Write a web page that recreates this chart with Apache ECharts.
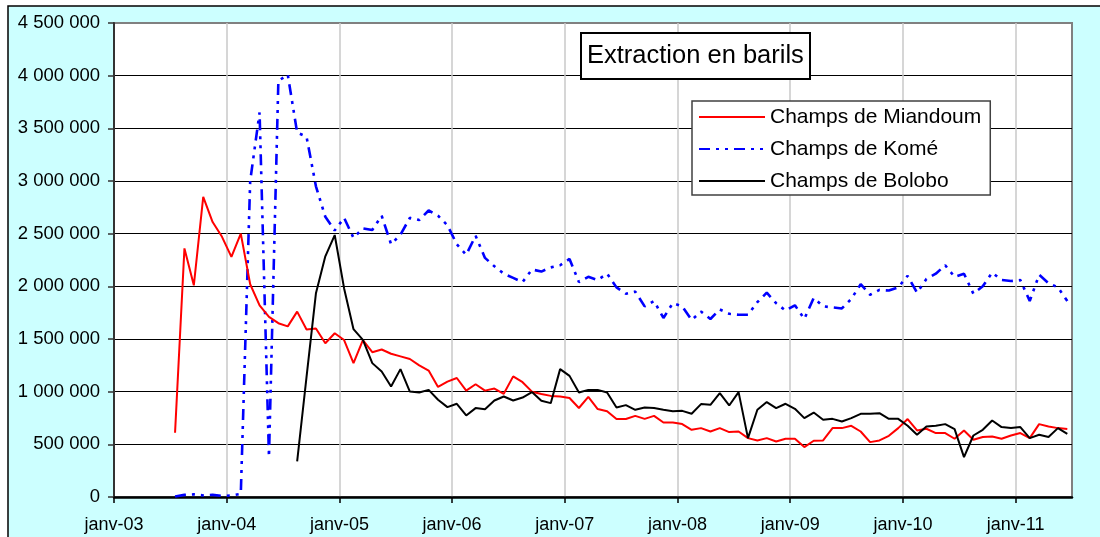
<!DOCTYPE html>
<html>
<head>
<meta charset="utf-8">
<script src="https://cdn.jsdelivr.net/npm/echarts@6/dist/echarts.min.js"></script>
<style>
  html, body { margin: 0; padding: 0; background: #fff; }
  #chart { width: 1100px; height: 537px; }
</style>
</head>
<body>
<div id="chart"></div>
<script>
// months are counted from janv-03; each series starts at its own month
const xTickLabels = ['janv-03', 'janv-04', 'janv-05', 'janv-06', 'janv-07', 'janv-08', 'janv-09', 'janv-10', 'janv-11'];
const seriesNames = ['Champs de Miandoum', 'Champs de Komé', 'Champs de Bolobo'];

const miandoumStart = '2003-07';
const miandoum = [
  610000, 2360000, 2010000, 2850000, 2610000, 2470000,
  2280000, 2500000, 2020000, 1820000, 1710000, 1650000, 1620000, 1760000, 1590000, 1600000, 1460000, 1555000,
  1490000, 1270000, 1490000, 1375000, 1400000, 1360000, 1335000, 1310000, 1250000, 1200000, 1045000, 1095000,
  1130000, 1010000, 1070000, 1010000, 1030000, 980000, 1145000, 1090000, 1000000, 977000, 960000, 955000,
  940000, 845000, 950000, 835000, 815000, 740000, 740000, 770000, 742000, 770000, 707000, 707000,
  692000, 638000, 654000, 622000, 654000, 616000, 622000, 559000, 537000, 559000, 527000, 553000,
  553000, 474000, 534000, 537000, 654000, 654000, 676000, 622000, 521000, 537000, 581000, 654000,
  740000, 632000, 648000, 607000, 607000, 553000, 632000, 543000, 569000, 575000, 553000, 584000,
  607000, 559000, 692000, 669000, 654000, 645000
];

const komeStart = '2003-07';
const kome = [
  5000, 20000, 25000, 15000, 20000, 10000,
  15000, 30000, 3000000, 3650000, 380000, 3950000, 4010000, 3460000, 3420000, 2950000, 2660000, 2530000,
  2650000, 2460000, 2550000, 2535000, 2670000, 2400000, 2490000, 2650000, 2630000, 2720000, 2670000, 2580000,
  2400000, 2300000, 2480000, 2270000, 2190000, 2120000, 2080000, 2040000, 2160000, 2140000, 2180000, 2200000,
  2260000, 2040000, 2090000, 2060000, 2120000, 1990000, 1930000, 1950000, 1810000, 1860000, 1700000, 1840000,
  1810000, 1680000, 1760000, 1690000, 1780000, 1740000, 1730000, 1730000, 1850000, 1940000, 1840000, 1770000,
  1820000, 1690000, 1890000, 1810000, 1800000, 1790000, 1880000, 2020000, 1920000, 1966000, 1960000, 1990000,
  2100000, 1940000, 2070000, 2120000, 2200000, 2090000, 2120000, 1930000, 2000000, 2130000, 2060000, 2050000,
  2060000, 1860000, 2110000, 2030000, 1990000, 1860000
];

const boloboStart = '2004-08';
const bolobo = [
  338000, 1140000, 1934000, 2285000, 2487000,
  1980000, 1593000, 1492000, 1271000, 1191000, 1049000, 1214000, 1001000, 992000, 1017000, 923000, 853000,
  885000, 774000, 844000, 834000, 916000, 954000, 916000, 944000, 996000, 913000, 891000, 1214000,
  1150000, 992000, 1017000, 1017000, 992000, 850000, 872000, 828000, 850000, 844000, 828000, 815000,
  818000, 790000, 882000, 875000, 986000, 869000, 996000, 559000, 828000, 901000, 844000, 885000,
  837000, 749000, 802000, 733000, 742000, 717000, 749000, 790000, 790000, 796000, 742000, 742000,
  676000, 591000, 669000, 676000, 692000, 645000, 379000, 584000, 638000, 726000, 664000, 654000,
  664000, 559000, 591000, 569000, 654000, 600000
];

const FONT = '"Liberation Sans", Arial, sans-serif';

// month index from janv-03, points sit in the middle of their month
function toPoints(start, values) {
  const p = start.split('-');
  const first = (parseInt(p[0], 10) - 2003) * 12 + parseInt(p[1], 10) - 1;
  return values.map(function (v, i) { return [first + i + 0.5, v]; });
}

function spaced(v) {
  return String(v).replace(/\B(?=(\d{3})+(?!\d))/g, ' ');
}

const myChart = echarts.init(document.getElementById('chart'));
myChart.setOption({
  animation: false,
  backgroundColor: '#fff',
  textStyle: { fontFamily: FONT },
  graphic: [{
    type: 'rect',
    z: -10,
    silent: true,
    shape: { x: 8, y: 6, width: 1100, height: 540 },
    style: { fill: '#CCFFFF', stroke: '#000', lineWidth: 1.5 }
  }],
  title: {
    text: 'Extraction en barils',
    left: 581,
    top: 33,
    padding: [10, 6, 10, 6],
    borderColor: '#000',
    borderWidth: 2,
    backgroundColor: '#fff',
    textStyle: { fontFamily: FONT, fontSize: 25.5, fontWeight: 'normal', color: '#000', lineHeight: 26 }
  },
  legend: {
    orient: 'vertical',
    left: 692,
    top: 101,
    padding: [5, 9, 3, 6],
    itemWidth: 66,
    itemHeight: 14,
    itemGap: 10,
    borderColor: '#404040',
    borderWidth: 1.5,
    backgroundColor: '#fff',
    itemStyle: { opacity: 0 },
    data: seriesNames,
    textStyle: { fontFamily: FONT, fontSize: 21, color: '#000', lineHeight: 22 }
  },
  grid: {
    left: 114,
    right: 28,
    top: 23,
    bottom: 40,
    show: true,
    backgroundColor: '#fff',
    borderColor: '#808080',
    borderWidth: 2
  },
  xAxis: {
    type: 'value',
    min: 0,
    max: 102,
    interval: 12,
    axisLine: { lineStyle: { color: '#000', width: 2.5 } },
    axisTick: { show: true, length: 6, lineStyle: { color: '#000', width: 1.5 }, customValues: [0, 12, 24, 36, 48, 60, 72, 84, 96] },
    axisLabel: {
      margin: 19,
      fontSize: 18,
      color: '#000',
      fontFamily: FONT,
      customValues: [0, 12, 24, 36, 48, 60, 72, 84, 96],
      formatter: function (v) { return v % 12 === 0 ? xTickLabels[v / 12] : ''; }
    },
    splitLine: { show: true, lineStyle: { color: '#c8c8c8', width: 1.5 } }
  },
  yAxis: {
    type: 'value',
    min: 0,
    max: 4500000,
    interval: 500000,
    axisLine: { show: true, lineStyle: { color: '#333', width: 2 } },
    axisTick: { show: true, length: 6, lineStyle: { color: '#333', width: 1.5 } },
    axisLabel: { margin: 14, fontSize: 18.5, color: '#000', fontFamily: FONT, formatter: spaced },
    splitLine: { show: true, showMaxLine: false, lineStyle: { color: '#000', width: 1 } }
  },
  series: [
    {
      name: seriesNames[0],
      type: 'line',
      symbol: 'none',
      z: 3,
      lineStyle: { color: '#FF0000', width: 2 },
      itemStyle: { color: '#FF0000' },
      data: toPoints(miandoumStart, miandoum)
    },
    {
      name: seriesNames[1],
      type: 'line',
      symbol: 'none',
      z: 2,
      lineStyle: { color: '#0000FF', width: 2.6, type: [11, 6, 3, 6, 3, 6] },
      itemStyle: { color: '#0000FF' },
      data: toPoints(komeStart, kome)
    },
    {
      name: seriesNames[2],
      type: 'line',
      symbol: 'none',
      z: 4,
      lineStyle: { color: '#000', width: 2 },
      itemStyle: { color: '#000' },
      data: toPoints(boloboStart, bolobo)
    }
  ]
});
window.addEventListener('resize', function () {
  myChart.resize();
});
</script>
</body>
</html>
